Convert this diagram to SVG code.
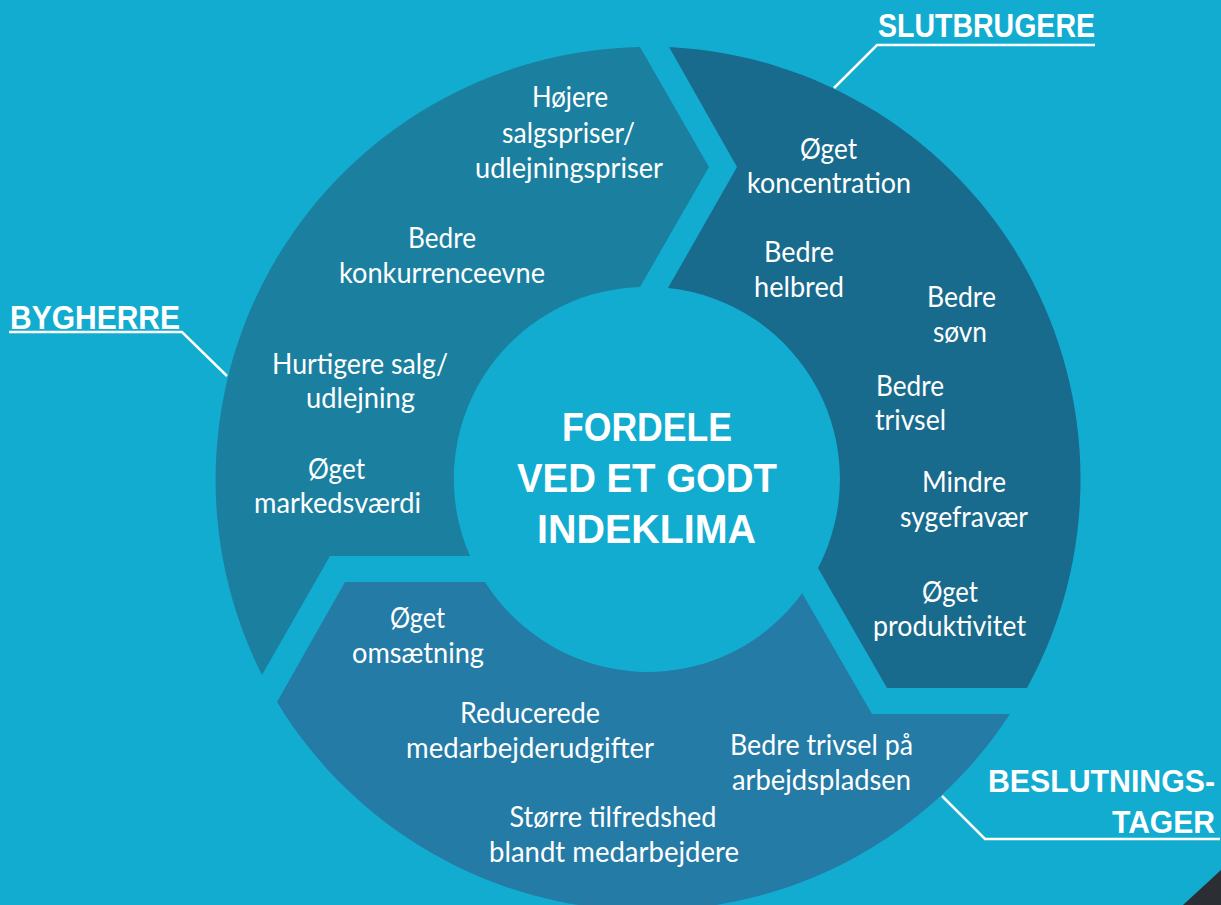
<svg xmlns="http://www.w3.org/2000/svg" width="1221" height="905" viewBox="0 0 1221 905">
<style>
.bg{fill:#13ACD1}
.t{font-family:Lato,"Liberation Sans",sans-serif;font-size:28px;fill:#FFFFFF;text-anchor:middle}
.h{font-family:"Liberation Sans",Arial,sans-serif;font-weight:bold;fill:#FFFFFF}
.lead{fill:none;stroke:#FFFFFF;stroke-width:2.5}
</style>
<rect class="bg" x="0" y="0" width="1221" height="905"/>
<polygon points="1183,905 1221,870 1221,905" fill="#2B2F33"/>

<g id="seg-bygherre">
<path d="M640,47 L709,167 L640,287 A192,192 0 0,0 470,556 L330,556 L262,675 A433,433 0 0,1 640,47 Z" fill="#1B80A0"/>
<text class="t" x="570" y="107" textLength="76" lengthAdjust="spacingAndGlyphs">Højere</text>
<text class="t" x="568.5" y="143" textLength="133" lengthAdjust="spacingAndGlyphs">salgspriser/</text>
<text class="t" x="569" y="178" textLength="188" lengthAdjust="spacingAndGlyphs">udlejningspriser</text>
<text class="t" x="442" y="248" textLength="68" lengthAdjust="spacingAndGlyphs">Bedre</text>
<text class="t" x="442" y="283" textLength="206" lengthAdjust="spacingAndGlyphs">konkurrenceevne</text>
<text class="t" x="360" y="374" textLength="176" lengthAdjust="spacingAndGlyphs">Hurtigere salg/</text>
<text class="t" x="360.5" y="408" textLength="109" lengthAdjust="spacingAndGlyphs">udlejning</text>
<text class="t" x="336.5" y="479" textLength="57" lengthAdjust="spacingAndGlyphs">Øget</text>
<text class="t" x="337.5" y="513" textLength="167" lengthAdjust="spacingAndGlyphs">markedsværdi</text>
</g>

<g id="seg-slutbrugere">
<path d="M669,47 A433,433 0 0,1 1027,688 L887,688 L818,568 A192,192 0 0,0 668,288 L737,167 Z" fill="#196B8D"/>
<text class="t" x="828.5" y="159" textLength="57" lengthAdjust="spacingAndGlyphs">Øget</text>
<text class="t" x="829" y="193" textLength="164" lengthAdjust="spacingAndGlyphs">koncentration</text>
<text class="t" x="799" y="262" textLength="70" lengthAdjust="spacingAndGlyphs">Bedre</text>
<text class="t" x="799" y="297" textLength="90" lengthAdjust="spacingAndGlyphs">helbred</text>
<text class="t" x="961.5" y="307" textLength="69" lengthAdjust="spacingAndGlyphs">Bedre</text>
<text class="t" x="960" y="342" textLength="54" lengthAdjust="spacingAndGlyphs">søvn</text>
<text class="t" x="910" y="396" textLength="68" lengthAdjust="spacingAndGlyphs">Bedre</text>
<text class="t" x="910.5" y="430" textLength="71" lengthAdjust="spacingAndGlyphs">trivsel</text>
<text class="t" x="964" y="492" textLength="84" lengthAdjust="spacingAndGlyphs">Mindre</text>
<text class="t" x="964" y="527" textLength="128" lengthAdjust="spacingAndGlyphs">sygefravær</text>
<text class="t" x="950" y="602" textLength="56" lengthAdjust="spacingAndGlyphs">Øget</text>
<text class="t" x="949.5" y="636" textLength="153" lengthAdjust="spacingAndGlyphs">produktivitet</text>
</g>

<g id="seg-beslutningstager">
<path d="M802,593 L872,714 L1010,714 A433,433 0 0,1 277,702 L345,582 L485,582 A192,192 0 0,0 802,593 Z" fill="#247BA6"/>
<text class="t" x="417.5" y="628" textLength="55" lengthAdjust="spacingAndGlyphs">Øget</text>
<text class="t" x="418" y="663" textLength="132" lengthAdjust="spacingAndGlyphs">omsætning</text>
<text class="t" x="530" y="723" textLength="140" lengthAdjust="spacingAndGlyphs">Reducerede</text>
<text class="t" x="530" y="758" textLength="248" lengthAdjust="spacingAndGlyphs">medarbejderudgifter</text>
<text class="t" x="821.5" y="755" textLength="183" lengthAdjust="spacingAndGlyphs">Bedre trivsel på</text>
<text class="t" x="821.5" y="790" textLength="179" lengthAdjust="spacingAndGlyphs">arbejdspladsen</text>
<text class="t" x="613" y="827" textLength="207" lengthAdjust="spacingAndGlyphs">Større tilfredshed</text>
<text class="t" x="614" y="862" textLength="250" lengthAdjust="spacingAndGlyphs">blandt medarbejdere</text>
</g>

<g id="center">
<circle class="bg" cx="648" cy="482" r="190"/>
<text class="h" x="562" y="441" font-size="40" textLength="170" lengthAdjust="spacingAndGlyphs">FORDELE</text>
<text class="h" x="517" y="492" font-size="40" textLength="260" lengthAdjust="spacingAndGlyphs">VED ET GODT</text>
<text class="h" x="537" y="543" font-size="40" textLength="219" lengthAdjust="spacingAndGlyphs">INDEKLIMA</text>
</g>

<g id="label-slutbrugere">
<text class="h" x="878" y="37" font-size="33" textLength="217" lengthAdjust="spacingAndGlyphs">SLUTBRUGERE</text>
</g>
<g id="label-bygherre">
<text class="h" x="10" y="329" font-size="34" textLength="170" lengthAdjust="spacingAndGlyphs">BYGHERRE</text>
</g>
<g id="label-beslutningstager">
<text class="h" x="988" y="792" font-size="31" textLength="227" lengthAdjust="spacingAndGlyphs">BESLUTNINGS-</text>
<text class="h" x="1112" y="833" font-size="31" textLength="103" lengthAdjust="spacingAndGlyphs">TAGER</text>
</g>

<g id="connectors">
<polyline class="lead" points="834,88 877,45 1095,45"/>
<polyline class="lead" points="9,332 182,332 227,376"/>
<polyline class="lead" points="942,796 985,839 1220,839"/>
</g>
</svg>
